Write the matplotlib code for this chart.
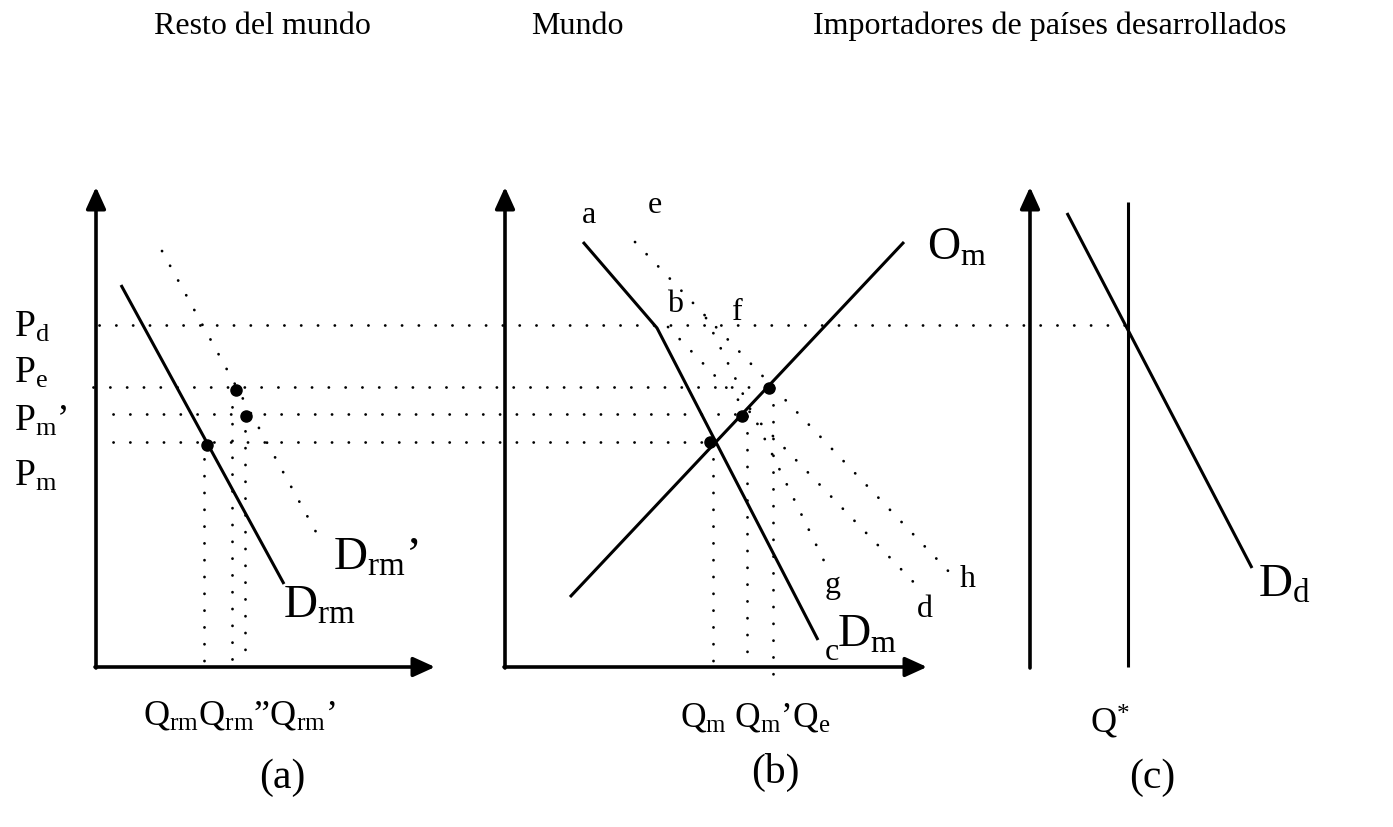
import matplotlib
matplotlib.use('Agg')
import matplotlib.pyplot as plt

plt.rcParams['font.family'] = ['Liberation Serif', 'DejaVu Serif']
plt.rcParams['mathtext.fontset'] = 'custom'
plt.rcParams['mathtext.rm'] = 'Liberation Serif'
plt.rcParams['mathtext.it'] = 'Liberation Serif:italic'
plt.rcParams['lines.scale_dashes'] = False

# coordenadas en pixeles de la imagen (y hacia abajo)
# ejes: (x origen, y origen, x fin flecha, y fin flecha)
ejes = [(96, 667, 435, 187), (505, 667, 927, 187), (1030, 667, 1395, 187)]

# precios (lineas horizontales punteadas): y, x inicio, x fin
precios_y = [325, 387, 414, 442]
precios_x0 = [99, 93, 113, 113]
precios_x1 = [1125, 770, 742, 710]
precios_lbl = ['P$_\\mathrm{d}$', 'P$_\\mathrm{e}$', 'P$_\\mathrm{m}$\u2019', 'P$_\\mathrm{m}$']
precios_lbl_y = [337, 383, 431, 486]

# cantidades (lineas verticales punteadas): x, y superior, y inferior
cant_x = [204, 232, 245, 713, 747, 773]
cant_y0 = [442, 390, 414, 442, 416, 388]
cant_y1 = [667, 663, 663, 667, 667, 677]

# curvas solidas
d_rm_x, d_rm_y = [121, 284], [285, 584]
d_m_x, d_m_y = [583, 657, 818], [242, 328, 640]
o_m_x, o_m_y = [570, 904], [597, 242]
q_star_x, q_star_y = [1128, 1128], [202, 667]
d_d_x, d_d_y = [1067, 1252], [213, 568]

# curvas punteadas
d_rm2_x, d_rm2_y = [162, 322], [251, 543]
eh_x, eh_y = [635, 952], [242, 575]
bd_x, bd_y = [668, 923], [327, 592]
fg_x, fg_y = [706, 825], [318, 563]

# puntos de equilibrio
pts_x = [236, 246, 207, 710, 742, 769]
pts_y = [390, 416, 445, 442, 416, 388]

fig = plt.figure(figsize=(13.93, 8.27), dpi=100)
ax = fig.add_axes([0, 0, 1, 1])
ax.set_xlim(0, 1393)
ax.set_ylim(827, 0)
ax.axis('off')

dot = dict(color='black', lw=2.0, linestyle=(0, (0.1, 12.0)),
           dash_capstyle='round', solid_capstyle='round')
sol = dict(color='black', lw=2.2, solid_capstyle='butt')

for x0, y0, x1, y1 in ejes:
    ax.annotate('', xy=(x1, y0), xytext=(x0 - 1, y0),
                arrowprops=dict(arrowstyle='-|>,head_length=0.55,head_width=0.25',
                                lw=2.6, color='black', mutation_scale=24,
                                shrinkA=0, shrinkB=0))
    ax.annotate('', xy=(x0, y1), xytext=(x0, y0 + 1),
                arrowprops=dict(arrowstyle='-|>,head_length=0.55,head_width=0.25',
                                lw=2.6, color='black', mutation_scale=24,
                                shrinkA=0, shrinkB=0))

for y, x0, x1 in zip(precios_y, precios_x0, precios_x1):
    ax.plot([x0, x1], [y, y], **dot)
for x, y0, y1 in zip(cant_x, cant_y0, cant_y1):
    ax.plot([x, x], [y0, y1], **dot)

for xs, ys in [(d_rm2_x, d_rm2_y), (eh_x, eh_y), (bd_x, bd_y), (fg_x, fg_y)]:
    ax.plot(xs, ys, **dot)

for xs, ys in [(d_rm_x, d_rm_y), (d_m_x, d_m_y), (o_m_x, o_m_y),
               (q_star_x, q_star_y), (d_d_x, d_d_y)]:
    ax.plot(xs, ys, **sol)

ax.plot(pts_x, pts_y, 'o', color='black', ms=8, ls='none')

# titulos
ax.text(262, 34, 'Resto del mundo', fontsize=23, ha='center', va='baseline')
ax.text(577, 34, 'Mundo', fontsize=23, ha='center', va='baseline')
ax.text(1050, 34, 'Importadores de países desarrollados', fontsize=23,
        ha='center', va='baseline')

for lbl, y in zip(precios_lbl, precios_lbl_y):
    ax.text(14, y, lbl, fontsize=27, ha='left', va='baseline')

# etiquetas de cantidades
ax.text(143, 725, 'Q$_\\mathrm{rm}$Q$_\\mathrm{rm}$\u201dQ$_\\mathrm{rm}$\u2019',
        fontsize=26, ha='left', va='baseline')
ax.text(680, 727, 'Q$_\\mathrm{m}$ Q$_\\mathrm{m}$\u2019Q$_\\mathrm{e}$',
        fontsize=25.5, ha='left', va='baseline')
ax.text(1090, 733, 'Q$^{*}$', fontsize=26, ha='left', va='baseline')

# etiquetas de curvas
ax.text(333, 570, 'D$_\\mathrm{rm}$\u2019', fontsize=34, ha='left', va='baseline')
ax.text(283, 618, 'D$_\\mathrm{rm}$', fontsize=34, ha='left', va='baseline')
ax.text(927, 260, 'O$_\\mathrm{m}$', fontsize=33, ha='left', va='baseline')
ax.text(837, 647, 'D$_\\mathrm{m}$', fontsize=33, ha='left', va='baseline')
ax.text(1258, 597, 'D$_\\mathrm{d}$', fontsize=34, ha='left', va='baseline')

letras = ['a', 'e', 'b', 'f', 'g', 'd', 'h', 'c']
letras_x = [582, 648, 667, 732, 825, 917, 960, 825]
letras_y = [223, 213, 312, 320, 593, 617, 587, 660]
for l, x, y in zip(letras, letras_x, letras_y):
    ax.text(x, y, l, fontsize=23, ha='left', va='baseline')

# paneles
ax.text(282, 788, '(a)', fontsize=30, ha='center', va='baseline')
ax.text(775, 783, '(b)', fontsize=30, ha='center', va='baseline')
ax.text(1152, 788, '(c)', fontsize=30, ha='center', va='baseline')

fig.savefig('out.png', dpi=100)
